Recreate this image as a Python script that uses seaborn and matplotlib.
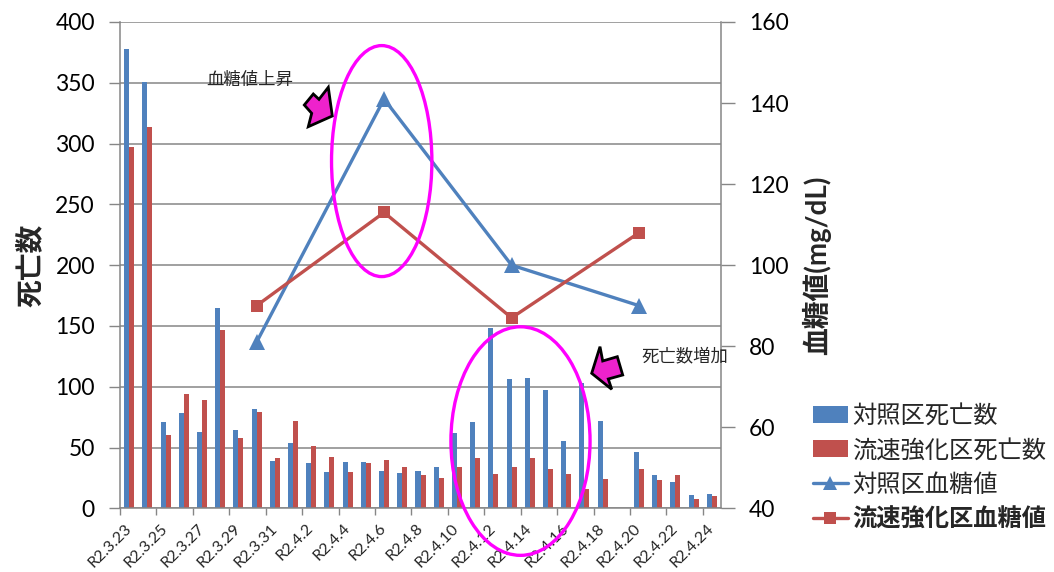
import numpy as np
import pandas as pd
import matplotlib
matplotlib.use("Agg")
import matplotlib.pyplot as plt
from matplotlib.patches import Ellipse, Polygon, Patch
from matplotlib.lines import Line2D
import seaborn as sns

# ---- data ----
dates = ["R2.3.23", "R2.3.24", "R2.3.25", "R2.3.26", "R2.3.27", "R2.3.28",
         "R2.3.29", "R2.3.30", "R2.3.31", "R2.4.1", "R2.4.2", "R2.4.3",
         "R2.4.4", "R2.4.5", "R2.4.6", "R2.4.7", "R2.4.8", "R2.4.9",
         "R2.4.10", "R2.4.11", "R2.4.12", "R2.4.13", "R2.4.14", "R2.4.15",
         "R2.4.16", "R2.4.17", "R2.4.18", "R2.4.19", "R2.4.20", "R2.4.21",
         "R2.4.22", "R2.4.23", "R2.4.24"]
control_deaths = [378, 351, 71, 78, 63, 165, 64, 82, 39, 54, 37, 30,
                  38, 38, 31, 29, 31, 34, 62, 71, 148, 106, 107, 97,
                  55, 103, 72, np.nan, 46, 27, 22, 11, 12]
boosted_deaths = [297, 314, 60, 94, 89, 147, 58, 79, 41, 72, 51, 42,
                  30, 37, 40, 34, 27, 25, 34, 41, 28, 34, 41, 32,
                  28, 16, 24, np.nan, 32, 23, 27, 8, 10]
glucose_dates = ["R2.3.30", "R2.4.6", "R2.4.13", "R2.4.20"]
control_glucose = [81, 141, 100, 90]
boosted_glucose = [90, 113, 87, 108]

series_names = ["対照区死亡数", "流速強化区死亡数", "対照区血糖値", "流速強化区血糖値"]

BLUE = "#4F81BD"
RED = "#C0504D"
GRID = "#868686"
MAGENTA = "#FF00FF"

sns.set_theme(style="white")
plt.rcParams["font.family"] = ["Lato", "Noto Sans CJK JP"]

W, H = 1054, 572
fig = plt.figure(figsize=(W / 100, H / 100), dpi=100)
ax = fig.add_axes([120 / W, 1 - 508.3 / H, 601 / W, (508.3 - 22) / H])

deaths = pd.DataFrame({
    "date": dates * 2,
    "count": control_deaths + boosted_deaths,
    "series": [series_names[0]] * len(dates) + [series_names[1]] * len(dates),
})
sns.barplot(data=deaths, x="date", y="count", hue="series", order=dates,
            hue_order=series_names[:2], palette=[BLUE, RED], saturation=1,
            width=0.55, errorbar=None, linewidth=0, legend=False, ax=ax)

# left axis
ax.set_ylim(0, 400)
ax.set_yticks(np.arange(0, 401, 50))
ax.yaxis.grid(True, color=GRID, lw=1.1)
ax.xaxis.grid(False)
ax.set_axisbelow(True)
ax.tick_params(axis="y", labelsize=16.5, length=8, width=1, color=GRID,
               direction="out", left=True, pad=10, labelcolor="black")
ax.set_ylabel("死亡数", fontsize=20, fontweight="bold", labelpad=8)
ax.set_xlabel("")

# category axis: tick marks between every second pair, labels on even days
ax.set_xlim(-0.5, len(dates) - 0.5)
ax.set_xticks(np.arange(-0.5, len(dates) - 1, 2))
ax.set_xticklabels([])
ax.tick_params(axis="x", which="major", length=5, width=1, color=GRID,
               direction="out", bottom=True)
label_pos = np.arange(0, len(dates), 2)
ax.set_xticks(label_pos, labels=[dates[i] for i in label_pos], minor=True)
ax.tick_params(axis="x", which="minor", length=0, labelsize=11.5, pad=13)
for t in ax.get_xticklabels(minor=True):
    t.set_rotation(45)
    t.set_ha("right")
    t.set_va("center")
    t.set_rotation_mode("anchor")

for side in ["top", "right"]:
    ax.spines[side].set_visible(False)
for side in ["left", "bottom"]:
    ax.spines[side].set_color(GRID)
    ax.spines[side].set_linewidth(1.1)

# right axis: blood glucose
ax2 = ax.twinx()
gx = [dates.index(d) for d in glucose_dates]
sns.lineplot(x=gx, y=control_glucose, ax=ax2, color=BLUE, lw=2.4,
             marker="^", markersize=11, markeredgewidth=0)
sns.lineplot(x=gx, y=boosted_glucose, ax=ax2, color=RED, lw=2.4,
             marker="s", markersize=9, markeredgewidth=0)
ax2.set_ylim(40, 160)
ax2.set_yticks(np.arange(40, 161, 20))
ax2.tick_params(axis="y", labelsize=16.5, length=10, width=1, color=GRID,
                direction="out", right=True, pad=10, labelcolor="black")
ax2.set_ylabel("血糖値(mg/dL)", fontsize=20, fontweight="bold", labelpad=10)
ax2.grid(False)
for side in ["top", "left", "bottom"]:
    ax2.spines[side].set_visible(False)
ax2.spines["right"].set_color(GRID)
ax2.spines["right"].set_linewidth(1.1)
ax2.set_xlim(-0.5, len(dates) - 0.5)

# highlight ellipses (data coordinates of the bar axis)
for (cx, cy, w, h) in [(13.87, 285.6, 5.51, 190), (21.49, 55.3, 7.64, 188)]:
    ax2.add_patch(Ellipse((cx, cy), w, h, transform=ax.transData, fill=False,
                          edgecolor=MAGENTA, lw=2.4, clip_on=False, zorder=10))


def to_fig(pts):
    return [(x / W, 1 - y / H) for x, y in pts]


# block arrows
arrow1 = [(304.3, 105), (313.3, 94), (319, 99.3), (328.3, 87.3),
          (332.3, 116), (308.3, 126.7), (311.7, 113.3)]
arrow2 = [(600, 346.7), (602.7, 361), (617.3, 356.7), (622.7, 375),
          (608.3, 379), (611.7, 389.3), (591.7, 373.3)]
for pts in (arrow1, arrow2):
    fig.patches.append(Polygon(to_fig(pts), closed=True, transform=fig.transFigure,
                               facecolor="#EE22CC", edgecolor="black", lw=2,
                               joinstyle="miter", zorder=20))

fig.text(206 / W, 1 - 80 / H, "血糖値上昇", fontsize=12.5, va="center", ha="left")
fig.text(641 / W, 1 - 356 / H, "死亡数増加", fontsize=12.5, va="center", ha="left")

# legend
handles = [
    Patch(facecolor=BLUE, edgecolor="none"),
    Patch(facecolor=RED, edgecolor="none"),
    Line2D([], [], color=BLUE, lw=2.4, marker="^", markersize=10, markeredgewidth=0),
    Line2D([], [], color=RED, lw=2.4, marker="s", markersize=8, markeredgewidth=0),
]
leg = fig.legend(handles, series_names, loc="upper left",
                 bbox_to_anchor=(803 / W, 1 - 394 / H), frameon=False,
                 fontsize=17.5, handlelength=1.45, handletextpad=0.17,
                 labelspacing=0.48, borderaxespad=0)
leg.get_texts()[3].set_fontweight("bold")

fig.savefig("out.png", dpi=100)
